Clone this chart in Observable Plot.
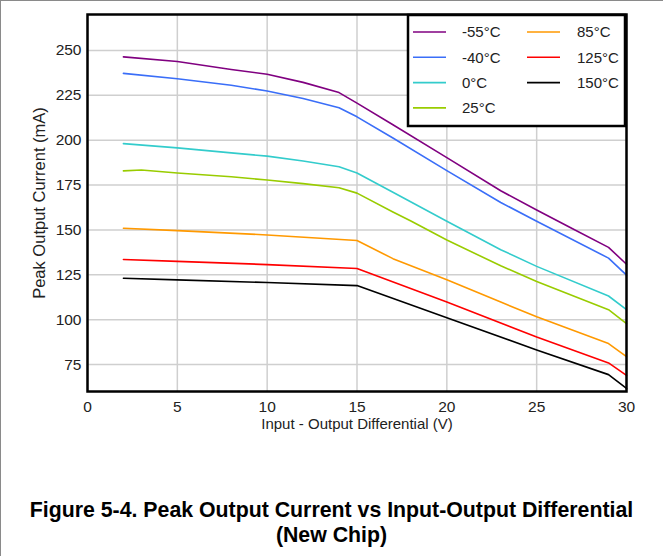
<!DOCTYPE html>
<html>
<head>
<meta charset="utf-8">
<script src="https://cdn.jsdelivr.net/npm/d3@7"></script>
<script src="https://cdn.jsdelivr.net/npm/@observablehq/plot@0.6"></script>
<style>
  html, body { margin: 0; padding: 0; background: #fff; }
  #wrap { position: relative; width: 663px; height: 556px; overflow: hidden; font-family: "Liberation Sans", Arial, sans-serif; }
  #chart { position: absolute; left: 0; top: 0; }
  #border { position: absolute; left: 0; top: 0; width: 663px; height: 556px; box-sizing: border-box; border-left: 1px solid #8a8a8a; border-top: 1px solid #8a8a8a; pointer-events: none; }
  #legend { position: absolute; left: 0; top: 0; }
  #title { position: absolute; left: 0; top: 498px; width: 663px; text-align: center; font-weight: bold; font-size: 21.3px; line-height: 25px; color: #000; }
</style>
</head>
<body>
<div id="wrap">
  <div id="chart"></div>
  <svg id="legend" width="663" height="460"></svg>
  <div id="title">Figure 5-4. Peak Output Current vs Input-Output Differential<br>(New Chip)</div>
  <div id="border"></div>
</div>
<script>
// ---- data ----
const temps = ["-55°C", "-40°C", "0°C", "25°C", "85°C", "125°C", "150°C"];
const colors = ["#800080", "#3a6ef8", "#33cccc", "#99cc00", "#ff9900", "#ff0000", "#000000"];
const xTicks = [0, 5, 10, 15, 20, 25, 30];
const yTicks = [75, 100, 125, 150, 175, 200, 225, 250];

const sM55 = [[2,246.4],[5,243.8],[8,239.4],[10,236.7],[12,232.2],[14,226.5],[15,220.6],[17,208.6],[20,190.3],[23,171.8],[25,161.1],[27,150.7],[29,140.3],[30,130.9]];
const sM40 = [[2,237.2],[5,234.2],[8,230.6],[10,227.4],[12,223.2],[14,218.1],[15,213.0],[17,201.2],[20,183.0],[23,165.3],[25,154.8],[29,134.3],[30,124.8]];
const s0   = [[2,198.1],[5,195.7],[8,192.9],[10,191.1],[12,188.4],[14,185.2],[15,181.7],[17,171.0],[20,154.8],[23,139.0],[25,129.7],[29,113.2],[30,105.6]];
const s25  = [[2,182.9],[3,183.4],[5,181.7],[8,179.6],[10,177.8],[12,175.8],[14,173.5],[15,170.5],[17,160.0],[18,155.0],[20,144.4],[23,130.0],[25,121.3],[29,105.6],[30,97.8]];
const s85  = [[2,150.9],[5,149.6],[10,147.2],[15,144.1],[17,134.0],[20,122.3],[23,109.8],[25,101.6],[29,86.7],[30,79.4]];
const s125 = [[2,133.5],[5,132.5],[10,130.7],[15,128.5],[20,109.8],[25,90.3],[29,75.9],[30,69.0]];
const s150 = [[2,123.1],[5,122.2],[10,120.7],[15,119.0],[20,101.1],[25,83.1],[29,69.4],[30,61.7]];

const seriesList = [sM55, sM40, s0, s25, s85, s125, s150];
const rows = seriesList.flatMap((s, i) => s.map(([x, y]) => ({x, y, temp: temps[i]})));

// ---- chart ----
const W = 663, H = 460;
const mL = 87, mR = 37, mT = 14, mB = 69;

const chart = Plot.plot({
  width: W, height: H,
  marginLeft: mL, marginRight: mR, marginTop: mT, marginBottom: mB,
  style: {fontFamily: '"Liberation Sans", Arial, sans-serif', fontSize: "15.5px", color: "#222", background: "transparent"},
  x: {domain: [0, 30]},
  y: {domain: [60, 270]},
  color: {domain: temps, range: colors},
  marks: [
    Plot.gridX(xTicks, {stroke: "#cfcfcf", strokeOpacity: 1, strokeWidth: 1.5}),
    Plot.gridY(yTicks, {stroke: "#cfcfcf", strokeOpacity: 1, strokeWidth: 1.5}),
    Plot.line(rows, {x: "x", y: "y", z: "temp", stroke: "temp", strokeWidth: 1.6}),
    Plot.frame({stroke: "#000", strokeWidth: 2.5}),
    Plot.axisX(xTicks, {tickSize: 0, tickPadding: 9, label: null, fill: "#222"}),
    Plot.axisY(yTicks, {tickSize: 0, tickPadding: 6, label: null, fill: "#222"}),
    Plot.text(["Input - Output Differential (V)"], {frameAnchor: "bottom", lineAnchor: "middle", textAnchor: "middle", dy: 33, fontSize: 15, fill: "#222"}),
    Plot.text(["Peak Output Current (mA)"], {frameAnchor: "left", textAnchor: "middle", lineAnchor: "middle", dx: -48, rotate: -90, fontSize: 16.5, fill: "#222"})
  ]
});
document.getElementById("chart").appendChild(chart);

// ---- legend (overlay box in the upper right of the frame) ----
const lg = d3.select("#legend");
const box = {x: 408, y: 15, w: 217, h: 111};
lg.append("rect").attr("x", box.x).attr("y", box.y).attr("width", box.w).attr("height", box.h)
  .attr("fill", "#fff").attr("stroke", "#000").attr("stroke-width", 2.5);
temps.forEach((t, i) => {
  const col = i < 4 ? 0 : 1;
  const row = i < 4 ? i : i - 4;
  const x0 = col === 0 ? 413 : 527;
  const tx = col === 0 ? 462 : 577;
  const cy = 32 + row * 25.3;
  lg.append("line").attr("x1", x0).attr("x2", x0 + 33).attr("y1", cy).attr("y2", cy)
    .attr("stroke", colors[i]).attr("stroke-width", 1.6);
  lg.append("text").attr("x", tx).attr("y", cy).attr("dy", "0.35em")
    .attr("font-family", '"Liberation Sans", Arial, sans-serif').attr("font-size", 15)
    .attr("fill", "#222").text(t);
});
</script>
</body>
</html>
